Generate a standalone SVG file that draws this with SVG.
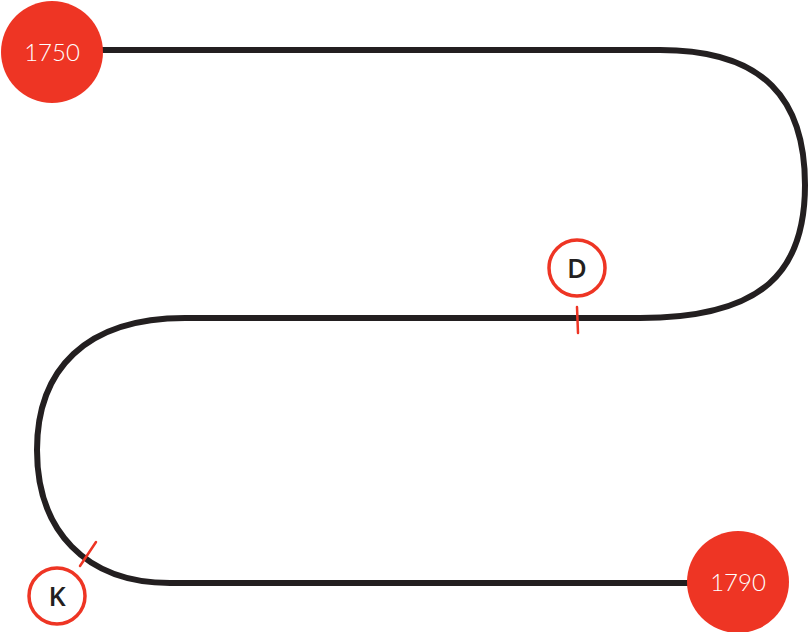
<svg xmlns="http://www.w3.org/2000/svg" width="810" height="632" viewBox="0 0 810 632">
<style>
.path{fill:none;stroke:#231f20;stroke-width:6;stroke-linecap:butt}
.year{fill:#ee3524}
.ytext{fill:#fff;font-family:Lato,"Open Sans",sans-serif;font-weight:300;font-size:24px;text-anchor:middle}
.mark{fill:#fff;stroke:#ee3524;stroke-width:3.5}
.mtext{fill:#231f20;font-family:"Open Sans","Noto Sans",sans-serif;font-weight:600;font-size:27px;text-anchor:middle}
.tick{stroke:#ee3524;stroke-width:2.5;stroke-linecap:round}
</style>
<g id="connectors">
<path class="path" d="M100,50 H660 C765,50 805,100 805,185 C805,270 765,318 640,318 H185 C85,318 37,370 37,450 C37,530 85,583 170,583 H690"/>
<line class="tick" x1="577" y1="307" x2="578" y2="333"/>
<line class="tick" x1="80" y1="566" x2="96" y2="542"/>
</g>
<g id="n1750">
<circle class="year" cx="52" cy="52" r="51"/>
<text class="ytext" x="52" y="61">1750</text>
</g>
<g id="n1790">
<circle class="year" cx="738" cy="582" r="51"/>
<text class="ytext" x="738" y="591">1790</text>
</g>
<g id="nD">
<circle class="mark" cx="577" cy="268" r="28"/>
<text class="mtext" x="577" y="278">D</text>
</g>
<g id="nK">
<circle class="mark" cx="57" cy="596" r="28"/>
<text class="mtext" x="57" y="606">K</text>
</g>
</svg>
